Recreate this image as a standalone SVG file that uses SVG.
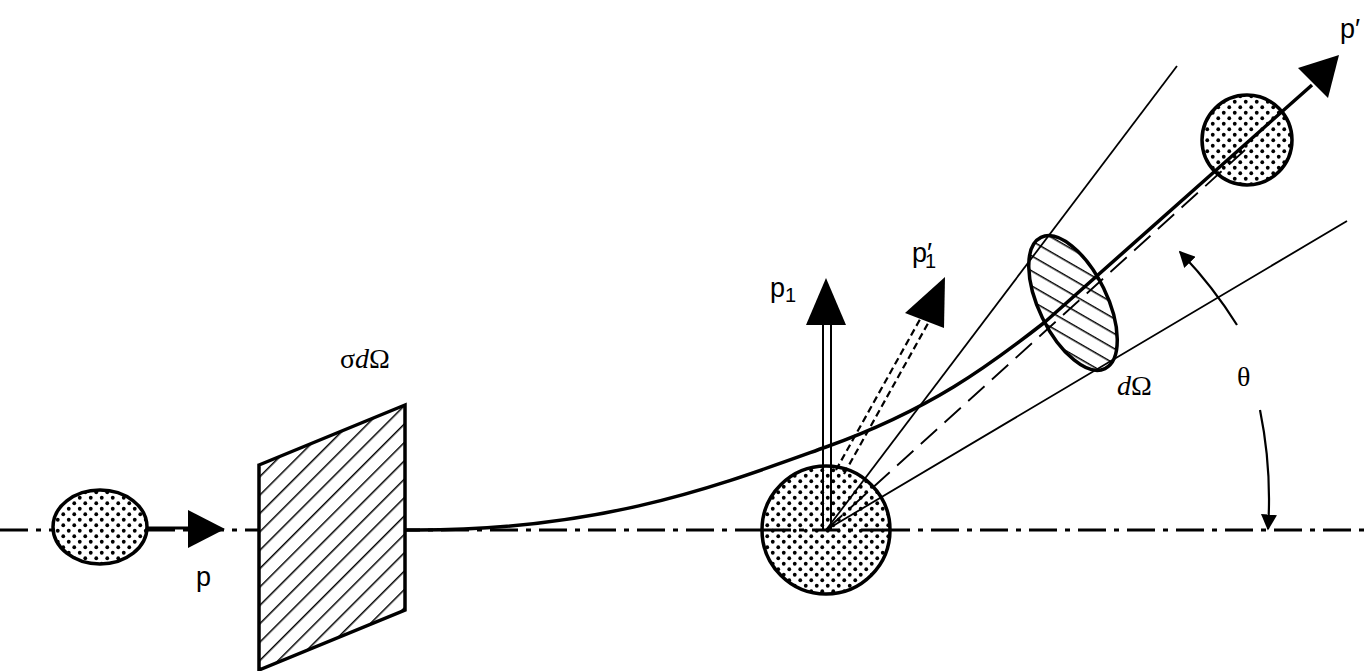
<svg xmlns="http://www.w3.org/2000/svg" width="1371" height="671" viewBox="0 0 1371 671">
<defs>
<pattern id="dots" width="11" height="11" patternUnits="userSpaceOnUse"><rect width="11" height="11" fill="#fff"/><circle cx="2.75" cy="2.75" r="1.9" fill="#000"/><circle cx="8.25" cy="8.25" r="1.9" fill="#000"/></pattern>
<pattern id="hatch" width="13" height="13" patternUnits="userSpaceOnUse" patternTransform="rotate(-45)"><rect width="13" height="13" fill="#fff"/><line x1="0" y1="0" x2="13" y2="0" stroke="#000" stroke-width="3"/></pattern>
<pattern id="hatch2" width="13" height="13" patternUnits="userSpaceOnUse" patternTransform="rotate(56)"><rect width="13" height="13" fill="#fff"/><line x1="0" y1="0" x2="13" y2="0" stroke="#000" stroke-width="3"/></pattern>
<marker id="ah" viewBox="0 0 10 10" refX="9" refY="5" markerWidth="16" markerHeight="16" markerUnits="userSpaceOnUse" orient="auto"><path d="M0,0L10,5L0,10z" fill="#000"/></marker>
<style>.t{font-family:"Liberation Sans",Arial,sans-serif;font-size:27px}.s{font-family:"Liberation Serif",serif;font-size:28px}</style>
</defs>
<g id="axis" fill="none" stroke="#000">
<line x1="0" y1="530" x2="1371" y2="530" stroke-width="3" stroke-dasharray="28,8,5,8"/>
</g>
<g id="incoming"><ellipse cx="100" cy="527" rx="47" ry="37" fill="url(#dots)" stroke="#000" stroke-width="3.5"/></g>
<g id="cross-section"><path d="M259,465L405,405L405,610L259,670z" fill="url(#hatch)" stroke="#000" stroke-width="3.5"/></g>
<g id="target"><circle cx="826" cy="530" r="64" fill="url(#dots)" stroke="#000" stroke-width="3.5"/>
<line x1="763" y1="530" x2="889" y2="530" stroke="#000" stroke-width="3" stroke-dasharray="28,8,5,8"/></g>
<g id="detector"><ellipse cx="1073" cy="303" rx="34" ry="73" transform="rotate(-26 1073 303)" fill="url(#hatch2)" stroke="#000" stroke-width="3.5"/></g>
<g id="scattered"><circle cx="1247" cy="140" r="45" fill="url(#dots)" stroke="#000" stroke-width="3.5"/></g>
<g id="connectors" fill="none" stroke="#000">
<line x1="147" y1="528" x2="190" y2="528" stroke-width="3"/>
<path d="M188,510L225,529L188,548z" fill="#000" stroke="none"/>
<line x1="826" y1="530" x2="1177" y2="66" stroke-width="1.8"/>
<line x1="826" y1="530" x2="1347" y2="221" stroke-width="1.8"/>
<line x1="826" y1="530" x2="1245" y2="150" stroke-width="1.8" stroke-dasharray="22,10"/>
<line x1="823" y1="530" x2="823" y2="322" stroke-width="2"/>
<line x1="831" y1="530" x2="831" y2="322" stroke-width="2"/>
<path d="M806,325L826,278L846,325z" fill="#000" stroke="none"/>
<line x1="836" y1="470" x2="923" y2="314" stroke-width="2.2" stroke-dasharray="7,4"/>
<line x1="844" y1="474" x2="931" y2="318" stroke-width="2.2" stroke-dasharray="7,4"/>
<path d="M905,313L945,277L944,328z" fill="#000" stroke="none"/>
<path d="M405,530C600,532 720,485 826,447C930,410 990,365 1045,322L1312,85" stroke-width="3.5"/>
<path d="M1339,55L1328,98L1298,68z" fill="#000" stroke="none"/>
<path d="M1237,325A445,445 0 0 0 1180,252" stroke-width="2.2" marker-end="url(#ah)"/>
<path d="M1260,410A445,445 0 0 1 1268,529" stroke-width="2.2" marker-end="url(#ah)"/>
</g>
<g id="labels">
<text class="t" x="196" y="586">p</text>
<text class="s" x="340" y="368">σ<tspan font-style="italic">d</tspan>Ω</text>
<text class="t" x="770" y="297">p<tspan font-size="20" dy="5">1</tspan></text>
<text class="t" x="912" y="262">p′<tspan font-size="20" dx="-7" dy="6">1</tspan></text>
<text class="t" x="1340" y="38">p′</text>
<text class="s" x="1117" y="395"><tspan font-style="italic">d</tspan>Ω</text>
<text class="s" x="1237" y="386">θ</text>
</g>
</svg>
